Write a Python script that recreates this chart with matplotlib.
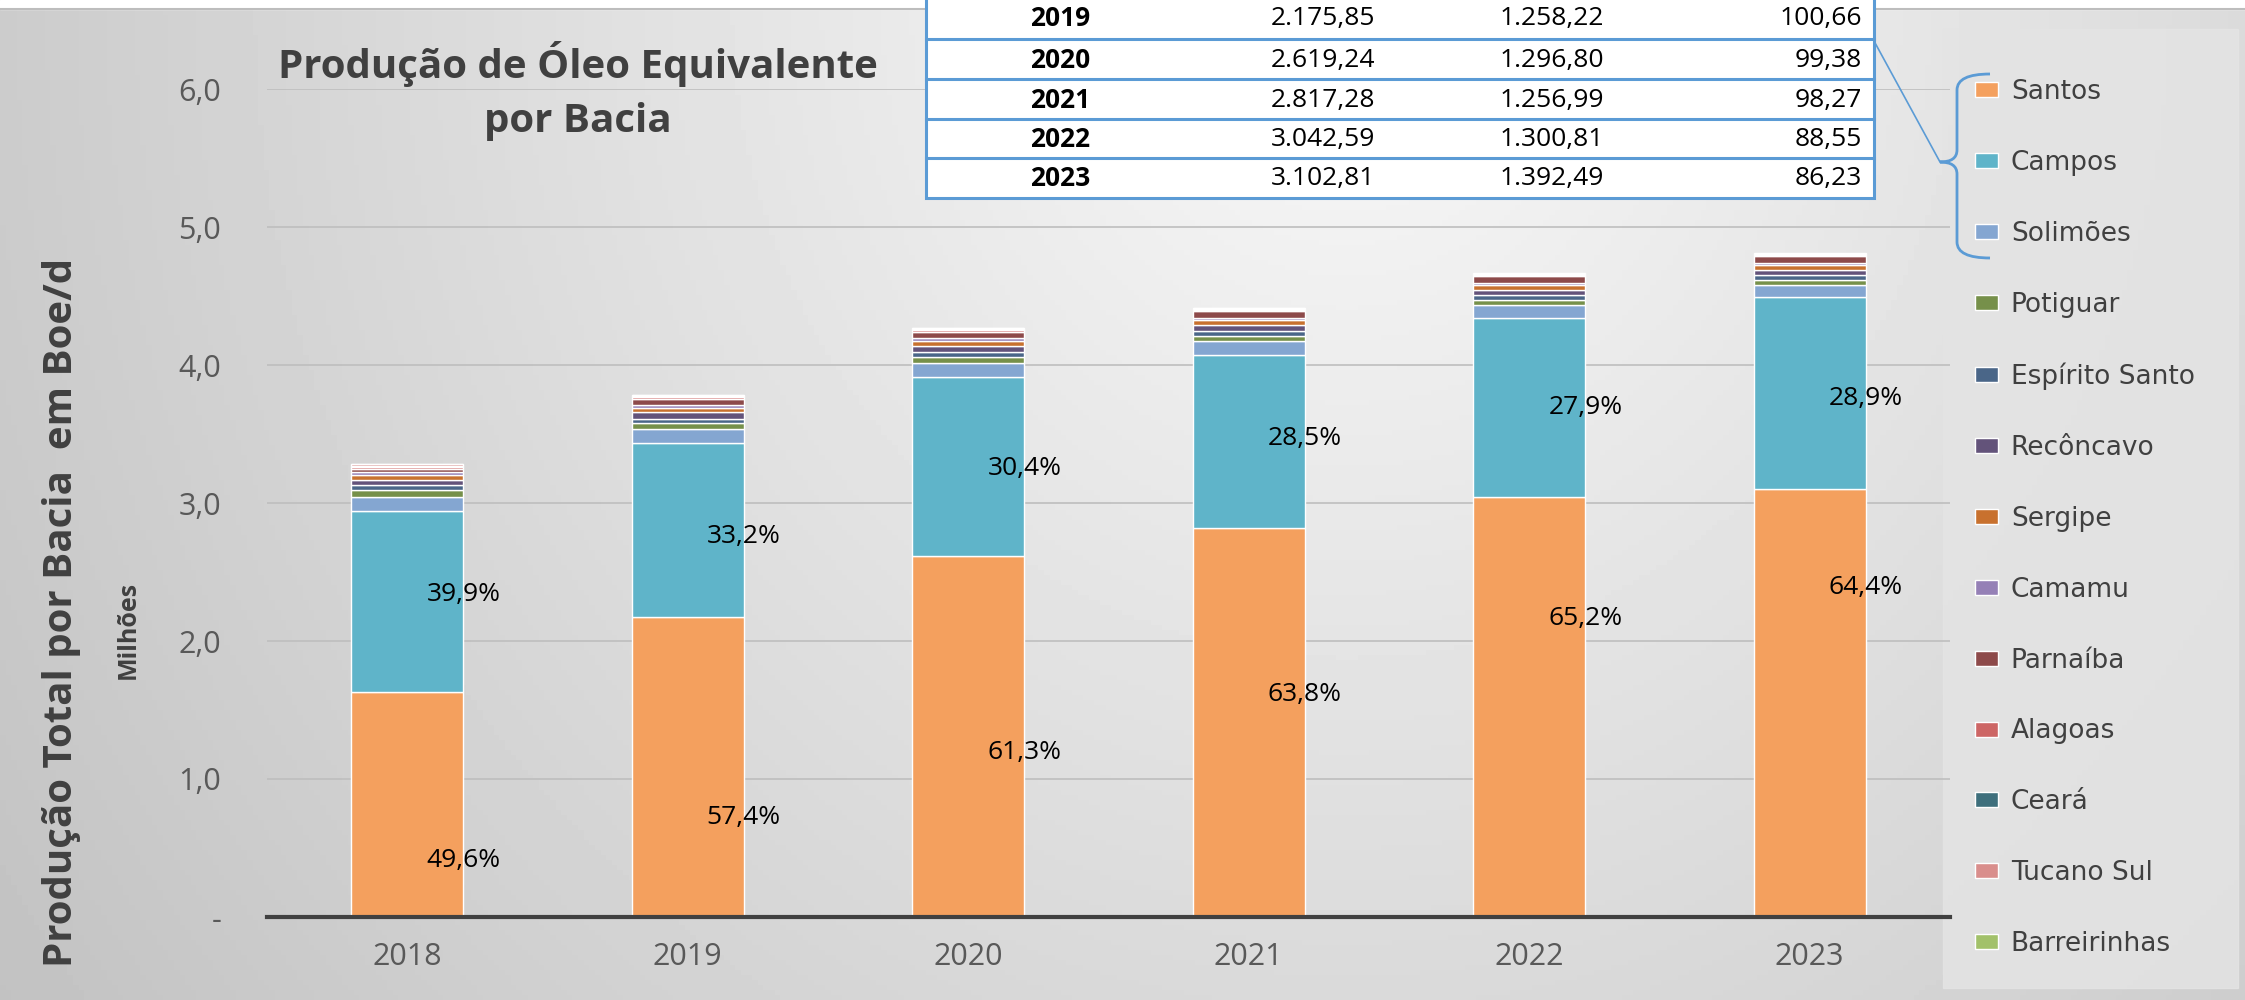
import numpy as np
import matplotlib
matplotlib.use("Agg")
import matplotlib.pyplot as plt
from matplotlib.path import Path
from matplotlib.patches import PathPatch, Rectangle

# production by basin, millions of boe/d
years = ["2018", "2019", "2020", "2021", "2022", "2023"]
santos = [1.630, 2.17585, 2.61924, 2.81728, 3.04259, 3.10281]
campos = [1.310, 1.25822, 1.29680, 1.25699, 1.30081, 1.39249]
solimoes = [0.105, 0.10066, 0.09938, 0.09827, 0.08855, 0.08623]
potiguar = [0.052, 0.047, 0.042, 0.038, 0.040, 0.037]
espirito_santo = [0.036, 0.025, 0.035, 0.038, 0.035, 0.033]
reconcavo = [0.036, 0.055, 0.043, 0.041, 0.037, 0.036]
sergipe = [0.032, 0.028, 0.037, 0.037, 0.037, 0.036]
camamu = [0.026, 0.022, 0.022, 0.017, 0.012, 0.012]
parnaiba = [0.022, 0.045, 0.046, 0.046, 0.050, 0.052]
alagoas = [0.014, 0.013, 0.013, 0.011, 0.009, 0.009]
ceara = [0.006, 0.005, 0.005, 0.004, 0.004, 0.004]
tucano_sul = [0.012, 0.010, 0.010, 0.008, 0.006, 0.006]
barreirinhas = [0.001, 0.001, 0.001, 0.002, 0.006, 0.006]

santos_pct = ["49,6%", "57,4%", "61,3%", "63,8%", "65,2%", "64,4%"]
campos_pct = ["39,9%", "33,2%", "30,4%", "28,5%", "27,9%", "28,9%"]
# where the % labels sit (manually placed in the original)
santos_lbl_y = [0.41, 0.72, 1.19, 1.61, 2.16, 2.39]
campos_lbl_y = [2.34, 2.76, 3.25, 3.47, 3.69, 3.76]

basins = ["Santos", "Campos", "Solimões", "Potiguar", "Espírito Santo", "Recôncavo",
          "Sergipe", "Camamu", "Parnaíba", "Alagoas", "Ceará", "Tucano Sul", "Barreirinhas"]
series = [santos, campos, solimoes, potiguar, espirito_santo, reconcavo,
          sergipe, camamu, parnaiba, alagoas, ceara, tucano_sul, barreirinhas]
colors = ["#F4A05E", "#5FB4C9", "#84A6D1", "#76904A", "#4A6688", "#63537A",
          "#C8712E", "#9580B6", "#8D4A4A", "#CD6665", "#3E6F7C", "#D98E8C", "#A2C16A"]

W, H = 2245, 1000
plt.rcParams["font.family"] = ["Open Sans", "DejaVu Sans"]
fig = plt.figure(figsize=(W / 100, H / 100), dpi=100)

# background gradient
bg = fig.add_axes([0, 0, 1, 1])
bg.set_zorder(0)
gx, gy = np.meshgrid(np.linspace(0, 1, 400), np.linspace(0, 1, 200))
dist = np.sqrt(((gx - 0.6) / 0.75) ** 2 + (gy / 1.8) ** 2)
shade = np.clip(0.975 - 0.22 * dist, 0, 1)
bg.imshow(shade, cmap="gray", vmin=0, vmax=1, extent=[0, W, H, 0], aspect="auto")
bg.set_xlim(0, W)
bg.set_ylim(H, 0)
bg.add_patch(Rectangle((0, 0), W, 9, color="white"))
bg.plot([0, W], [9, 9], color="#BDBDBD", lw=1.5)
bg.add_patch(Rectangle((1943, 29), 295, 959, color="#E4E4E4", alpha=0.85))
bg.axis("off")

ax = fig.add_axes([267 / W, 1 - 917 / H, (1950 - 267) / W, (917 - 89) / H])
ax.set_zorder(1)
ax.set_facecolor("none")

x = np.arange(len(years))
bottom = np.zeros(len(years))
for name, vals, col in zip(basins, series, colors):
    ax.bar(x, vals, 0.4, bottom=bottom, color=col, edgecolor="white", linewidth=1,
           label=name, zorder=3)
    bottom += np.array(vals)

for i in range(len(years)):
    ax.text(x[i] + 0.2, santos_lbl_y[i], santos_pct[i], ha="center", va="center",
            fontsize=19, color="black", zorder=5)
    ax.text(x[i] + 0.2, campos_lbl_y[i], campos_pct[i], ha="center", va="center",
            fontsize=19, color="black", zorder=5)

ax.set_xlim(-0.5, 5.5)
ax.set_ylim(0, 6)
ax.set_xticks(x)
ax.set_xticklabels(years)
yt = np.arange(0, 7)
ax.set_yticks(yt)
ax.set_yticklabels(["-"] + [f"{v:.1f}".replace(".", ",") for v in yt[1:]])
ax.tick_params(axis="both", length=0, labelsize=22, labelcolor="#595959")
ax.tick_params(axis="x", pad=18)
ax.tick_params(axis="y", pad=33)
ax.grid(axis="y", color="#BEBEBE", lw=1.2, zorder=0)
for s in ["top", "right", "left"]:
    ax.spines[s].set_visible(False)
ax.spines["bottom"].set_color("#404040")
ax.spines["bottom"].set_linewidth(3)
ax.spines["bottom"].set_zorder(4)

leg = ax.legend(loc="upper left", bbox_to_anchor=(1962 / W, 1 - 66 / H),
                bbox_transform=fig.transFigure, frameon=False,
                labelspacing=1.70, handlelength=0.85, handleheight=0.5,
                handletextpad=0.5, borderpad=0, prop={"family": "DejaVu Sans", "size": 19})
for t in leg.get_texts():
    t.set_color("#404040")

# titles
fig.text(578 / W, 1 - 91 / H, "Produção de Óleo Equivalente\npor Bacia", ha="center",
         va="center", fontsize=29, fontweight="bold", color="#404040", linespacing=1.5)
fig.text(62 / W, 1 - 612 / H, "Produção Total por Bacia  em Boe/d", rotation=90,
         ha="center", va="center", fontsize=29, fontweight="bold", color="#404040")
fig.text(128 / W, 1 - 630 / H, "Milhões", rotation=90, ha="center", va="center",
         fontsize=18, fontweight="bold", color="#404040")

# data table at the top (partially cut off in the original)
fg = fig.add_axes([0, 0, 1, 1])
fg.set_zorder(2)
fg.set_xlim(0, W)
fg.set_ylim(H, 0)
fg.axis("off")

def fmt_br(v):
    s = f"{v:,.2f}"
    return s.replace(",", "X").replace(".", ",").replace("X", ".")

blue = "#5B9BD5"
row_edges = [-3, 39, 79, 119, 158, 198]
tl, tr = 926, 1874
fg.add_patch(Rectangle((tl, row_edges[0]), tr - tl, row_edges[-1] - row_edges[0],
                       facecolor="white", edgecolor=blue, lw=2.2))
for yy in row_edges[1:-1]:
    fg.plot([tl, tr], [yy, yy], color=blue, lw=2.2)
for r in range(5):
    yc = (row_edges[r] + row_edges[r + 1]) / 2 + 1
    fg.text(1060, yc, years[r + 1], ha="center", va="center", fontsize=19,
            fontweight="bold", color="black")
    fg.text(1375, yc, fmt_br(santos[r + 1] * 1000), ha="right", va="center",
            fontsize=19, color="black")
    fg.text(1604, yc, fmt_br(campos[r + 1] * 1000), ha="right", va="center",
            fontsize=19, color="black")
    fg.text(1862, yc, fmt_br(solimoes[r + 1] * 1000), ha="right", va="center",
            fontsize=19, color="black")

# connector and brace to the legend
fg.plot([tr, 1940], [41, 162], color=blue, lw=1.2)
verts = [(1990, 74), (1957, 74), (1957, 90), (1957, 150), (1957, 162), (1940, 162),
         (1957, 162), (1957, 174), (1957, 242), (1957, 258), (1990, 258)]
codes = [Path.MOVETO, Path.CURVE3, Path.CURVE3, Path.LINETO, Path.CURVE3, Path.CURVE3,
         Path.CURVE3, Path.CURVE3, Path.LINETO, Path.CURVE3, Path.CURVE3]
fg.add_patch(PathPatch(Path(verts, codes), facecolor="none", edgecolor=blue, lw=2))

fig.savefig("out.png", dpi=100)
